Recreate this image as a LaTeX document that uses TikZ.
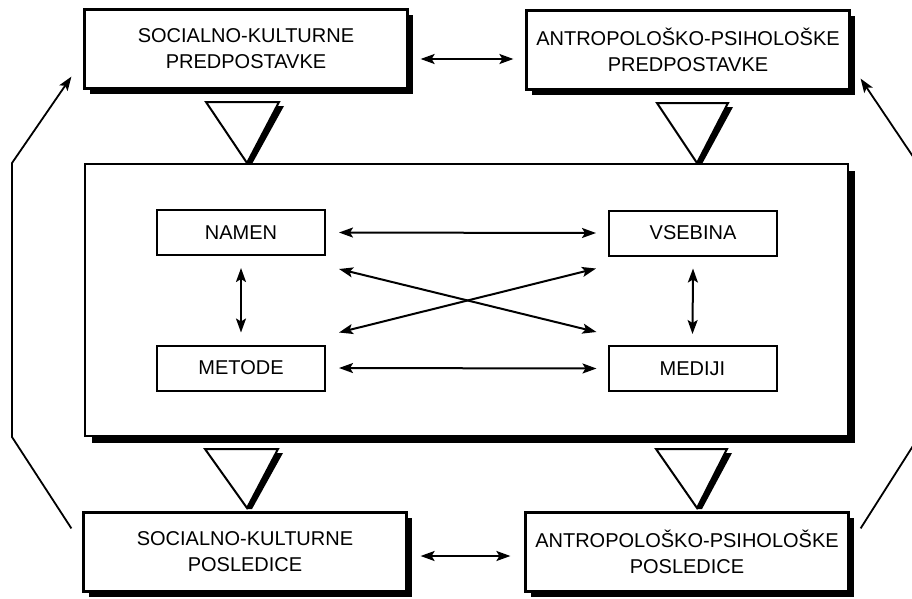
\documentclass[tikz,border=0pt]{standalone}
\usepackage{fontspec}
\setmainfont{Liberation Sans}
\usetikzlibrary{arrows.meta,shadows}
\begin{document}
\begin{tikzpicture}[x=1pt,y=-1pt,
  label font/.style={font=\fontsize{20}{26}\selectfont},
  outerbox/.style={draw, line width=2.2pt, fill=white, label font,
    minimum width=323pt, minimum height=79pt, align=center, inner sep=0pt,
    execute at begin node={\rule{0pt}{30pt}},
    drop shadow={fill=black, opacity=1, shadow xshift=5pt, shadow yshift=-5pt}},
  framebox/.style={draw, line width=2.2pt, fill=white,
    minimum width=763pt, minimum height=272pt, inner sep=0pt,
    drop shadow={fill=black, opacity=1, shadow xshift=7pt, shadow yshift=-7pt}},
  innerbox/.style={draw, line width=2pt, fill=white, label font,
    minimum width=168pt, minimum height=45pt, inner sep=0pt},
  tip/.tip={Stealth[length=14pt,width=10pt,inset=3pt]},
  dbl/.style={line width=2pt, tip-tip},
  sgl/.style={line width=1.8pt, -tip},
  tri/.style={draw, line width=2pt, fill=white, line join=miter},
  trishadow/.style={fill=black}
]
\useasboundingbox (0,0) rectangle (912,598);
\begin{scope}
\clip (0,0) rectangle (912,598);

% central frame
\node[framebox] (frame) at (466.5,300) {};

% premises and consequences
\node[outerbox] (skpr) at (246,49)  {SOCIALNO-KULTURNE\\PREDPOSTAVKE};
\node[outerbox] (apkr) at (688,50)  {ANTROPOLOŠKO-PSIHOLOŠKE\\PREDPOSTAVKE};
\node[outerbox] (skp)  at (245,552) {SOCIALNO-KULTURNE\\POSLEDICE};
\node[outerbox] (akp)  at (687,552) {ANTROPOLOŠKO-PSIHOLOŠKE\\POSLEDICE};

% funnels between the boxes and the frame
\fill[trishadow] (277,106) -- (284,106) -- (252,164) -- (247,164) -- cycle;
\path[tri] (206,102) -- (279,102) -- (247,163) -- cycle;
\fill[trishadow] (726,107) -- (733,107) -- (702,164) -- (697,164) -- cycle;
\path[tri] (657,103) -- (728,103) -- (697,163) -- cycle;
\fill[trishadow] (276,453) -- (283,453) -- (252,509) -- (247,509) -- cycle;
\path[tri] (205,449) -- (278,449) -- (247,508) -- cycle;
\fill[trishadow] (725,453) -- (732,453) -- (702,509) -- (697,509) -- cycle;
\path[tri] (656,449) -- (727,449) -- (697,508) -- cycle;

% elements inside the frame
\node[innerbox] (namen)   at (241,232.5) {NAMEN};
\node[innerbox] (vsebina) at (693,233)   {VSEBINA};
\node[innerbox] (metode)  at (241,368)   {METODE};
\node[innerbox] (mediji)  at (692.5,368.5) {MEDIJI};

% relations inside the frame
\draw[dbl] ([xshift=13pt]namen.east) -- ([xshift=-12pt]vsebina.west);
\draw[dbl] ([xshift=13pt]metode.east) -- ([xshift=-11pt]mediji.west);
\draw[dbl] ([yshift=-12pt]namen.south) -- ([yshift=12pt]metode.north);
\draw[dbl] ([yshift=-12pt]vsebina.south) -- ([yshift=11pt]mediji.north);
\draw[dbl] ([xshift=13pt,yshift=-13pt]namen.south east) -- ([xshift=-11pt,yshift=13pt]mediji.north west);
\draw[dbl] ([xshift=13pt,yshift=12pt]metode.north east) -- ([xshift=-12pt,yshift=-12pt]vsebina.south west);

% relations between the outer boxes
\draw[dbl] ([xshift=12pt,yshift=-10pt]skpr.east) -- ([xshift=-12pt,yshift=-10pt]skpr.east -| apkr.west);
\draw[dbl] ([xshift=13pt,yshift=-4pt]skp.east) -- ([xshift=-14pt,yshift=-4pt]skp.east -| akp.west);

% feedback loops
\coordinate (la) at (12,437);
\coordinate (lb) at (12,163);
\coordinate (ra) at (918,438);
\coordinate (rb) at (918,164);
\draw[sgl] ([xshift=-11pt,yshift=-17pt]skp.north west) -- (la) -- (lb)
  -- ([xshift=-12pt,yshift=13pt]skpr.south west);
\draw[sgl] ([xshift=11pt,yshift=-17pt]akp.north east) -- (ra) -- (rb)
  -- ([xshift=10pt,yshift=12pt]apkr.south east);
\end{scope}
\end{tikzpicture}
\end{document}
